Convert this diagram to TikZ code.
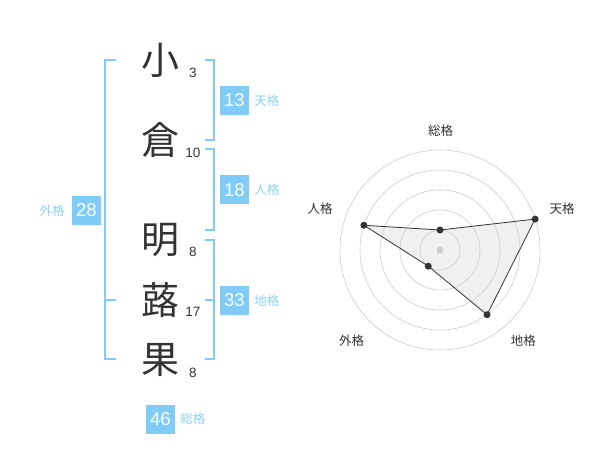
\documentclass[tikz,border=0pt]{standalone}
\usepackage{fontspec}
\setmainfont{Liberation Sans}
\newfontfamily\cjk{Noto Sans CJK JP}
\usetikzlibrary{positioning,calc}
\definecolor{kakublue}{HTML}{80CCF8}
\definecolor{kakutext}{HTML}{8CD2F8}
\definecolor{inkgray}{HTML}{333333}

\begin{document}
\begin{tikzpicture}[
    x=1pt, y=-1pt,
    namechar/.style={inner sep=0pt, text=inkgray, font=\cjk\fontsize{38}{38}\selectfont},
    strokes/.style={inner sep=0pt, text=inkgray, font=\fontsize{13.5}{14}\selectfont},
    kakubox/.style={rectangle, fill=kakublue, text=white, minimum size=29pt, inner sep=0pt, font=\fontsize{18.5}{19}\selectfont},
    kakulabel/.style={inner sep=0pt, text=kakutext, font=\cjk\fontsize{12.5}{13}\selectfont},
    bracket/.style={draw=kakublue, line width=2pt},
    ring/.style={draw=black!20, line width=0.6pt},
    axislabel/.style={inner sep=0pt, text=inkgray, font=\cjk\fontsize{12.5}{13}\selectfont},
    dot/.style={circle, fill=inkgray, inner sep=0pt, minimum size=7pt},
]
    \useasboundingbox (0,0) rectangle (600,470);

    % Name characters and stroke counts
    \node[namechar] (c1) at (160,60) {小};
    \node[namechar] (c2) at (160,140) {倉};
    \node[namechar] (c3) at (160,240) {明};
    \node[namechar] (c4) at (160,300) {蕗};
    \node[namechar] (c5) at (160,360) {果};
    \node[strokes] (s1) at (193,73) {3};
    \node[strokes] (s2) at (193,153) {10};
    \node[strokes] (s3) at (193,252) {8};
    \node[strokes] (s4) at (193,312) {17};
    \node[strokes] (s5) at (193,373) {8};

    % Brackets
    \draw[bracket] (116,60) -- (105,60) -- (105,359) -- (116,359);
    \draw[bracket] (105,300) -- (116,300);
    \draw[bracket] (205,60) -- (214,60) -- (214,140) -- (205,140);
    \draw[bracket] (205,149) -- (214,149) -- (214,230) -- (205,230);
    \draw[bracket] (205,240) -- (214,240) -- (214,359) -- (205,359);
    \draw[bracket] (205,300) -- (214,300);

    % Scores
    \node[kakubox] (ten) at (234.5,100.5) {13};
    \node[kakulabel, right=5pt of ten] (ten_lbl) {天格};
    \node[kakubox] (jin) at (234.5,190) {18};
    \node[kakulabel, right=5pt of jin] (jin_lbl) {人格};
    \node[kakubox] (chi) at (234.5,300.5) {33};
    \node[kakulabel, right=5pt of chi] (chi_lbl) {地格};
    \node[kakubox] (gai) at (86.5,210.5) {28};
    \node[kakulabel, left=7pt of gai] (gai_lbl) {外格};
    \node[kakubox] (sou) at (160.5,419) {46};
    \node[kakulabel, right=5pt of sou] (sou_lbl) {総格};

    % Radar chart
    \begin{scope}[shift={(440,250)}]
        \coordinate (r_sou) at (-90:20);
        \coordinate (r_ten) at (-18:100);
        \coordinate (r_chi) at (54:80);
        \coordinate (r_gai) at (126:20);
        \coordinate (r_jin) at (198:80);

        \fill[black!6] (r_sou) -- (r_ten) -- (r_chi) -- (r_gai) -- (r_jin) -- cycle;
        \draw[ring] (0,0) circle (20pt);
        \draw[ring] (0,0) circle (40pt);
        \draw[ring] (0,0) circle (60pt);
        \draw[ring] (0,0) circle (80pt);
        \draw[ring] (0,0) circle (100pt);
        \draw[inkgray, line width=0.8pt] (r_sou) -- (r_ten) -- (r_chi) -- (r_gai) -- (r_jin) -- cycle;

        \node[circle, fill=black!20, inner sep=0pt, minimum size=7pt] (r_center) at (0,0) {};
        \node[dot] (d_sou) at (r_sou) {};
        \node[dot] (d_ten) at (r_ten) {};
        \node[dot] (d_chi) at (r_chi) {};
        \node[dot] (d_gai) at (r_gai) {};
        \node[dot] (d_jin) at (r_jin) {};

        \node[axislabel] (a_sou) at (0.7,-119.3) {総格};
        \node[axislabel] (a_ten) at (122,-41) {天格};
        \node[axislabel] (a_chi) at (83.3,91) {地格};
        \node[axislabel] (a_gai) at (-88.3,91) {外格};
        \node[axislabel] (a_jin) at (-120,-41) {人格};
    \end{scope}

\end{tikzpicture}
\end{document}
